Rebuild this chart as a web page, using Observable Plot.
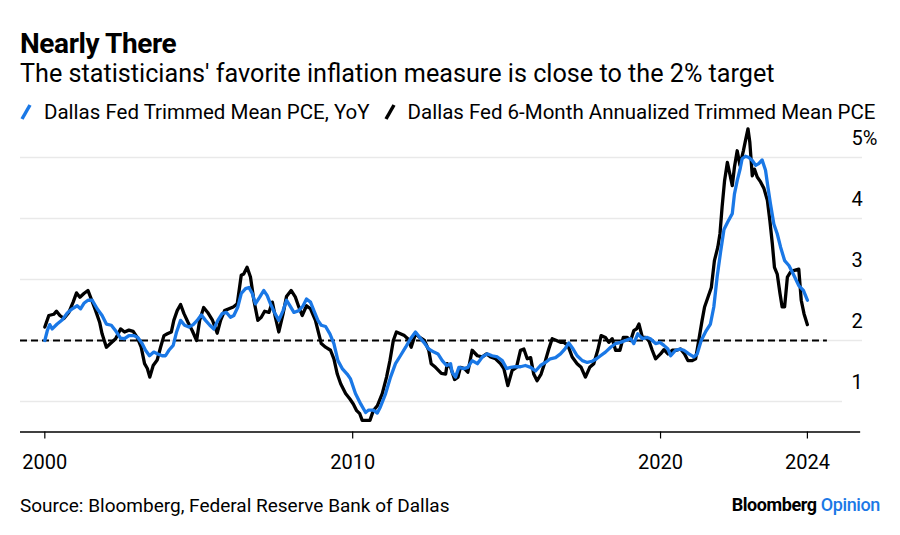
<!DOCTYPE html>
<html>
<head>
<meta charset="utf-8">
<script src="https://cdn.jsdelivr.net/npm/d3@7"></script>
<script src="https://cdn.jsdelivr.net/npm/@observablehq/plot@0.6"></script>
<style>
  html, body { margin: 0; padding: 0; background: #fff; }
  body { width: 900px; height: 535px; position: relative; overflow: hidden; font-family: Roboto, "Noto Sans", sans-serif; color: #000; }
  .abs { position: absolute; line-height: 1; white-space: nowrap; }
  #title { left: 20px; top: 30px; font-size: 28px; font-weight: 700; letter-spacing: -0.4px; }
  #subtitle { left: 20px; top: 61px; font-size: 25.2px; }
  #legend { left: 20px; top: 102px; font-size: 20.5px; display: flex; align-items: center; }
  #legend svg { margin-right: 12px; }
  #legend .item { display: flex; align-items: center; margin-right: 14px; }
  #chart { position: absolute; left: 0; top: 120px; }
  #source { left: 20px; top: 496px; font-size: 19px; }
  #logo { right: 20px; top: 496px; font-size: 18px; letter-spacing: -0.4px; }
  #logo b { font-weight: 700; }
  #logo span { color: #1a78e6; font-weight: 500; }
</style>
</head>
<body>
<div id="title" class="abs">Nearly There</div>
<div id="subtitle" class="abs">The statisticians' favorite inflation measure is close to the 2% target</div>
<div id="legend" class="abs"></div>
<div id="chart"></div>
<div id="source" class="abs">Source: Bloomberg, Federal Reserve Bank of Dallas</div>
<div id="logo" class="abs"><b>Bloomberg</b> <span>Opinion</span></div>
<script>
// Series names and colours
const seriesNames = ["Dallas Fed Trimmed Mean PCE, YoY", "Dallas Fed 6-Month Annualized Trimmed Mean PCE"];
const seriesColors = ["#1a78e6", "#000000"];

// Dallas Fed Trimmed Mean PCE, YoY (decimal year, %)
const yoyYears = [2000.00,2000.08,2000.16,2000.24,2000.40,2000.57,2000.73,2000.89,2001.05,2001.16,2001.27,2001.40,2001.54,2001.70,2001.86,2002.00,2002.16,2002.30,2002.46,2002.59,2002.73,2002.89,2003.02,2003.16,2003.27,2003.40,2003.54,2003.67,2003.81,2003.92,2004.03,2004.17,2004.28,2004.41,2004.54,2004.68,2004.82,2004.95,2005.08,2005.22,2005.36,2005.49,2005.62,2005.76,2005.90,2006.03,2006.14,2006.27,2006.38,2006.52,2006.63,2006.74,2006.84,2006.98,2007.11,2007.22,2007.33,2007.46,2007.60,2007.74,2007.85,2007.96,2008.09,2008.25,2008.39,2008.50,2008.63,2008.74,2008.87,2008.98,2009.12,2009.26,2009.39,2009.52,2009.66,2009.82,2009.93,2010.09,2010.26,2010.42,2010.52,2010.67,2010.80,2010.90,2011.07,2011.23,2011.39,2011.55,2011.72,2011.88,2012.04,2012.18,2012.31,2012.47,2012.64,2012.77,2012.91,2013.05,2013.18,2013.23,2013.34,2013.45,2013.61,2013.74,2013.88,2014.05,2014.21,2014.37,2014.53,2014.70,2014.86,2015.00,2015.13,2015.29,2015.45,2015.61,2015.78,2015.94,2016.10,2016.26,2016.42,2016.59,2016.75,2016.89,2017.02,2017.16,2017.29,2017.46,2017.62,2017.78,2017.92,2018.05,2018.21,2018.38,2018.54,2018.70,2018.86,2019.03,2019.13,2019.26,2019.41,2019.57,2019.67,2019.84,2019.98,2020.11,2020.24,2020.33,2020.49,2020.63,2020.76,2020.92,2021.08,2021.19,2021.32,2021.46,2021.62,2021.73,2021.84,2021.95,2022.06,2022.19,2022.33,2022.40,2022.49,2022.58,2022.65,2022.76,2022.87,2022.98,2023.09,2023.19,2023.30,2023.41,2023.49,2023.57,2023.68,2023.79,2023.90,2024.03,2024.17,2024.33,2024.49,2024.64,2024.77];
const yoyValues = [2.00,2.16,2.26,2.19,2.27,2.34,2.45,2.52,2.57,2.52,2.61,2.66,2.66,2.52,2.41,2.27,2.25,2.16,2.04,2.03,2.08,2.08,2.05,1.95,1.84,1.75,1.81,1.78,1.75,1.75,1.84,1.92,2.14,2.33,2.25,2.22,2.26,2.33,2.42,2.33,2.25,2.19,2.33,2.44,2.46,2.38,2.41,2.55,2.77,2.85,2.87,2.77,2.60,2.71,2.82,2.74,2.60,2.46,2.33,2.49,2.66,2.57,2.46,2.49,2.57,2.68,2.63,2.49,2.33,2.25,2.23,2.11,1.95,1.67,1.54,1.45,1.37,1.13,0.96,0.82,0.86,0.86,0.81,0.91,1.13,1.40,1.62,1.75,1.89,2.03,2.14,2.05,1.97,1.86,1.81,1.78,1.67,1.59,1.62,1.48,1.40,1.56,1.54,1.56,1.67,1.62,1.73,1.78,1.75,1.73,1.67,1.54,1.56,1.57,1.57,1.59,1.56,1.50,1.59,1.64,1.70,1.72,1.78,1.86,1.96,1.86,1.75,1.67,1.64,1.66,1.70,1.75,1.81,1.89,1.95,1.97,2.00,2.03,1.95,2.11,2.03,2.05,2.03,1.95,1.97,1.92,1.86,1.75,1.84,1.86,1.84,1.78,1.73,1.78,2.00,2.14,2.27,2.55,3.05,3.45,3.82,3.95,4.08,4.40,4.62,4.80,4.98,5.02,5.00,4.95,4.87,4.90,4.96,4.79,4.51,4.24,3.91,3.75,3.53,3.31,3.23,3.07,2.90,2.82,2.66];

// Dallas Fed 6-Month Annualized Trimmed Mean PCE (decimal year, %)
const sixMonthYears = [2000.00,2000.13,2000.29,2000.38,2000.49,2000.62,2000.78,2000.92,2001.03,2001.14,2001.27,2001.40,2001.51,2001.65,2001.78,2001.86,2002.00,2002.13,2002.30,2002.46,2002.59,2002.73,2002.87,2003.00,2003.13,2003.24,2003.33,2003.41,2003.52,2003.65,2003.76,2003.87,2003.98,2004.11,2004.19,2004.30,2004.41,2004.52,2004.65,2004.79,2004.93,2005.03,2005.16,2005.29,2005.44,2005.60,2005.71,2005.84,2005.98,2006.12,2006.25,2006.38,2006.46,2006.57,2006.68,2006.79,2006.92,2007.03,2007.14,2007.28,2007.39,2007.49,2007.60,2007.74,2007.85,2008.00,2008.14,2008.25,2008.36,2008.50,2008.63,2008.79,2008.90,2008.98,2009.12,2009.28,2009.39,2009.50,2009.61,2009.77,2009.91,2010.02,2010.13,2010.23,2010.31,2010.47,2010.56,2010.67,2010.80,2010.96,2011.10,2011.21,2011.32,2011.42,2011.55,2011.68,2011.79,2011.90,2012.04,2012.18,2012.33,2012.47,2012.55,2012.69,2012.88,2013.02,2013.07,2013.18,2013.31,2013.42,2013.50,2013.63,2013.74,2013.88,2014.05,2014.21,2014.35,2014.48,2014.64,2014.80,2014.91,2015.04,2015.18,2015.32,2015.45,2015.56,2015.67,2015.78,2015.88,2015.99,2016.12,2016.26,2016.37,2016.48,2016.62,2016.75,2016.86,2016.99,2017.13,2017.29,2017.42,2017.56,2017.70,2017.83,2017.96,2018.07,2018.21,2018.32,2018.43,2018.54,2018.68,2018.79,2018.92,2019.03,2019.13,2019.22,2019.30,2019.41,2019.51,2019.62,2019.73,2019.84,2020.00,2020.11,2020.24,2020.38,2020.52,2020.65,2020.78,2020.89,2021.03,2021.14,2021.24,2021.35,2021.43,2021.54,2021.65,2021.75,2021.86,2021.93,2022.00,2022.08,2022.17,2022.25,2022.33,2022.40,2022.49,2022.58,2022.69,2022.76,2022.84,2022.90,2022.98,2023.05,2023.14,2023.25,2023.36,2023.47,2023.55,2023.63,2023.70,2023.79,2023.88,2023.95,2024.03,2024.12,2024.22,2024.35,2024.49,2024.57,2024.66,2024.77];
const sixMonthValues = [2.22,2.41,2.43,2.48,2.41,2.36,2.46,2.63,2.78,2.71,2.77,2.82,2.68,2.49,2.30,2.11,1.89,1.95,2.03,2.19,2.14,2.17,2.15,2.05,1.89,1.62,1.54,1.40,1.59,1.68,1.89,2.08,2.11,2.14,2.33,2.49,2.59,2.44,2.30,2.16,2.00,2.33,2.54,2.46,2.34,2.12,2.33,2.49,2.52,2.55,2.60,3.07,3.09,3.20,3.04,2.66,2.33,2.38,2.48,2.46,2.63,2.38,2.14,2.44,2.72,2.82,2.71,2.55,2.41,2.57,2.52,2.33,2.11,1.95,1.89,1.84,1.70,1.45,1.29,1.13,1.04,0.96,0.85,0.80,0.69,0.69,0.69,0.85,0.93,1.13,1.40,1.67,2.00,2.14,2.11,2.08,2.03,1.89,2.11,2.05,2.00,1.84,1.62,1.56,1.46,1.45,1.62,1.56,1.36,1.40,1.56,1.54,1.48,1.84,1.75,1.73,1.78,1.73,1.70,1.62,1.54,1.26,1.51,1.56,1.84,1.86,1.70,1.72,1.45,1.34,1.45,1.67,1.86,2.03,2.00,1.97,1.97,1.92,1.73,1.62,1.56,1.40,1.56,1.62,1.84,2.08,2.05,1.97,2.03,1.84,1.84,2.05,2.05,2.00,2.16,2.19,2.27,2.05,2.05,2.00,1.84,1.70,1.78,1.85,1.78,1.84,1.84,1.86,1.78,1.67,1.67,1.70,2.00,2.33,2.55,2.71,2.87,3.31,3.53,3.75,4.19,4.62,4.92,4.73,4.54,4.84,5.11,4.87,5.11,5.28,5.47,5.25,4.70,4.81,4.68,4.60,4.49,4.30,3.97,3.59,3.20,3.09,2.77,2.55,2.55,3.04,3.12,3.15,3.17,2.66,2.44,2.26];

// Axis ticks and labels
const xTickValues = [2000, 2010, 2020, 2024.77];
const xTickLabels = ["2000", "2010", "2020", "2024"];
const yTickValues = [1, 2, 3, 4, 5];
const yTickLabels = ["1", "2", "3", "4", "5%"];
const target = 2;

// Legend
const legend = document.getElementById("legend");
seriesNames.forEach((name, i) => {
  const item = document.createElement("div");
  item.className = "item";
  item.innerHTML = `<svg width="12" height="18"><line x1="2" y1="16" x2="10" y2="2" stroke="${seriesColors[i]}" stroke-width="3.5" stroke-linecap="butt"/></svg><span>${name}</span>`;
  legend.appendChild(item);
});

const yoy = yoyYears.map((t, i) => ({t, v: yoyValues[i]}));
const six = sixMonthYears.map((t, i) => ({t, v: sixMonthValues[i]}));

const xDomain = [1999.21, 2026.56];

const chart = Plot.plot({
  width: 900,
  height: 370,
  marginLeft: 20,
  marginRight: 38,
  marginTop: 6.5,
  marginBottom: 58.5,
  style: {fontFamily: "Roboto, sans-serif", fontSize: "20px", color: "#000", background: "transparent"},
  x: {type: "linear", domain: xDomain},
  y: {domain: [0.5, 5.5]},
  marks: [
    Plot.ruleY(yTickValues.filter(d => d !== 1), {stroke: "#e9e9e9", strokeWidth: 1.5}),
    Plot.ruleY([1], {x1: () => xDomain[0], x2: () => 2025.91, stroke: "#e9e9e9", strokeWidth: 1.5}),
    Plot.ruleY([target], {x1: () => xDomain[0], x2: () => 2025.42, stroke: "#000", strokeWidth: 1.8, strokeDasharray: "7,4"}),
    Plot.ruleY([0.5], {x1: () => xDomain[0], x2: () => 2026.5, stroke: "#000", strokeWidth: 1.5}),
    Plot.line(six, {x: "t", y: "v", stroke: seriesColors[1], strokeWidth: 3.3, strokeLinejoin: "round"}),
    Plot.line(yoy, {x: "t", y: "v", stroke: seriesColors[0], strokeWidth: 3.3, strokeLinejoin: "round"}),
    Plot.axisY({anchor: "right", ticks: yTickValues, tickFormat: (d, i) => yTickLabels[yTickValues.indexOf(d)], tickSize: 0, tickPadding: 0, dx: -11, dy: -19, textAnchor: "start", fill: "#000", label: null}),
    Plot.axisX({ticks: xTickValues, tickFormat: d => xTickLabels[xTickValues.indexOf(d)], tickSize: 7, tickPadding: 16, stroke: "#000", strokeWidth: 1.2, fill: "#000", label: null})
  ]
});
document.getElementById("chart").appendChild(chart);
</script>
</body>
</html>
